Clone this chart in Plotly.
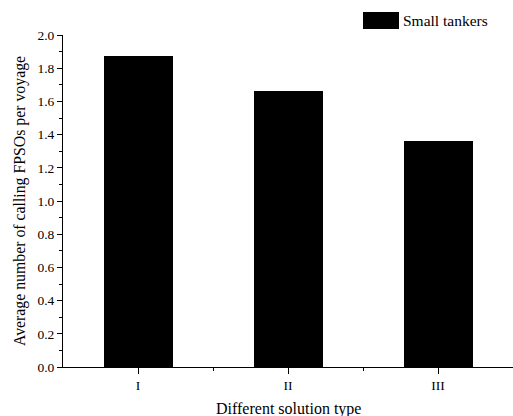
import plotly.graph_objects as go

categories = ["I", "II", "III"]
positions = [1, 2, 3]
values = [1.875, 1.665, 1.36]
series_name = "Small tankers"
x_title = "Different solution type"
y_title = "Average number of calling FPSOs per voyage"

font = "Liberation Serif, Times New Roman, serif"

fig = go.Figure()
fig.add_trace(go.Bar(
    x=positions, y=values, width=0.46,
    marker=dict(color="black", line=dict(width=0)),
    name=series_name, showlegend=False,
))

# legend drawn as box + text
fig.add_shape(type="rect", xref="paper", yref="paper",
              x0=(363 - 63) / 450, x1=(399 - 63) / 450,
              y0=(367 - 29) / 332, y1=(367 - 12) / 332,
              fillcolor="black", line=dict(color="black", width=0))
fig.add_annotation(text=series_name, xref="paper", yref="paper",
                   x=(401 - 63) / 450, y=(367 - 21) / 332,
                   xanchor="left", yanchor="middle", showarrow=False,
                   font=dict(family=font, size=15.5, color="black"))
# x-axis title
fig.add_annotation(text=x_title, xref="paper", yref="paper",
                   x=0.5, y=(367 - 409) / 332,
                   xanchor="center", yanchor="middle", showarrow=False,
                   font=dict(family=font, size=16, color="black"))

fig.update_layout(
    width=513, height=416,
    margin=dict(l=63, r=0, t=35, b=49),
    plot_bgcolor="white", paper_bgcolor="white",
    font=dict(family=font, size=13, color="black"),
    bargap=0,
)
fig.update_xaxes(
    range=[0.5, 3.5], tickvals=positions, ticktext=categories,
    showline=True, linecolor="black", linewidth=1,
    ticks="outside", ticklen=6, tickcolor="black",
    minor=dict(tickvals=[1.5, 2.5], ticks="outside", ticklen=3, tickcolor="black"),
    showgrid=False, zeroline=False, automargin=False,
    tickfont=dict(size=13.5),
)
fig.update_yaxes(
    range=[0, 2.0], dtick=0.2, tickformat=".1f",
    showline=True, linecolor="black", linewidth=1,
    ticks="outside", ticklen=5, tickcolor="black",
    minor=dict(dtick=0.1, ticks="outside", ticklen=3, tickcolor="black"),
    showgrid=False, zeroline=False, automargin=False,
    title=dict(text=y_title, font=dict(size=15.8), standoff=7),
    tickfont=dict(size=13.5),
)

fig.write_html("out.html")
